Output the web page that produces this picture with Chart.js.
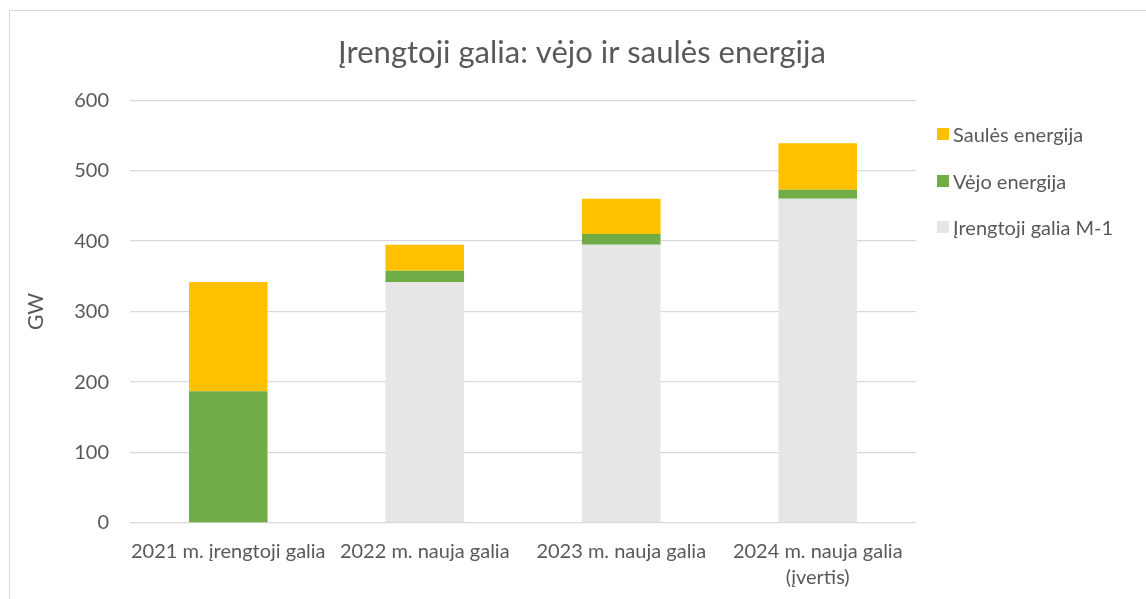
<!DOCTYPE html>
<html>
<head>
<meta charset="utf-8">
<script src="https://cdn.jsdelivr.net/npm/chart.js@4"></script>
<style>
  body { margin: 0; background: #fff; font-family: Lato, sans-serif; }
  #wrap { position: relative; width: 1146px; height: 599px; overflow: hidden; }
  #frame { position: absolute; left: 9px; top: 10px; width: 1200px; height: 700px;
           border-left: 1.5px solid #d9d9d9; border-top: 1.5px solid #d9d9d9; }
  canvas { position: absolute; left: 0; top: 0; }
  #legend { position: absolute; left: 937px; top: 0; color: #595959; font-size: 20px; }
  .item { position: absolute; left: 0; white-space: nowrap; display: flex; align-items: center; height: 24px; }
  .box { width: 12px; height: 12px; margin-right: 4px; }
</style>
</head>
<body>
<div id="wrap">
  <div id="frame"></div>
  <canvas id="chart" width="1146" height="599"></canvas>
  <div id="legend"></div>
</div>
<script>
  const categories = ['2021 m. įrengtoji galia', '2022 m. nauja galia', '2023 m. nauja galia', ['2024 m. nauja galia', '(įvertis)']];
  const previousCapacity = [0, 342, 395, 460];
  const windEnergy = [187, 16, 15, 13];
  const solarEnergy = [155, 37, 50, 66];

  const textColor = '#595959';

  const ctx = document.getElementById('chart').getContext('2d');
  const chart = new Chart(ctx, {
    type: 'bar',
    data: {
      labels: categories,
      datasets: [
        { label: 'Įrengtoji galia M-1', data: previousCapacity, backgroundColor: '#E7E6E6' },
        { label: 'Vėjo energija', data: windEnergy, backgroundColor: '#70AD47' },
        { label: 'Saulės energija', data: solarEnergy, backgroundColor: '#FFC000' }
      ]
    },
    options: {
      responsive: false,
      animation: false,
      layout: { padding: { left: 18, right: 0, top: 0, bottom: 0 } },
      datasets: { bar: { categoryPercentage: 1, barPercentage: 0.4 } },
      plugins: {
        legend: { display: false },
        tooltip: { enabled: false },
        title: {
          display: true,
          text: 'Įrengtoji galia: vėjo ir saulės energija',
          color: textColor,
          font: { family: 'Lato', size: 31, weight: 'normal' },
          padding: { top: 34, bottom: 29 }
        }
      },
      scales: {
        x: {
          stacked: true,
          afterFit: (scale) => { scale.height = 76; },
          grid: { display: false },
          border: { display: false },
          ticks: {
            color: textColor,
            font: { family: 'Lato', size: 20, lineHeight: 1.3 },
            padding: 8,
            maxRotation: 0,
            autoSkip: false
          }
        },
        y: {
          stacked: true,
          min: 0,
          max: 600,
          afterFit: (scale) => { scale.width = 112; },
          grid: { color: '#d9d9d9', lineWidth: 1.3, drawTicks: false },
          border: { display: false },
          ticks: {
            stepSize: 100,
            color: textColor,
            font: { family: 'Lato', size: 20 },
            padding: 21
          },
          title: {
            display: true,
            text: 'GW',
            color: textColor,
            font: { family: 'Lato', size: 21 },
            padding: { top: 6, bottom: 0 }
          }
        },
        // empty right-hand space for the legend
        side: {
          position: 'right',
          display: true,
          afterFit: (scale) => { scale.width = 230; },
          grid: { display: false },
          border: { display: false },
          ticks: { display: false }
        }
      }
    }
  });

  // legend, top to bottom reversed like the stack
  const legendEl = document.getElementById('legend');
  const legendY = [134, 181, 227];
  chart.data.datasets.slice().reverse().forEach((ds, i) => {
    const item = document.createElement('div');
    item.className = 'item';
    item.style.top = (legendY[i] - 12) + 'px';
    item.innerHTML = '<span class="box" style="background:' + ds.backgroundColor + '"></span>' + ds.label;
    legendEl.appendChild(item);
  });
</script>
</body>
</html>
